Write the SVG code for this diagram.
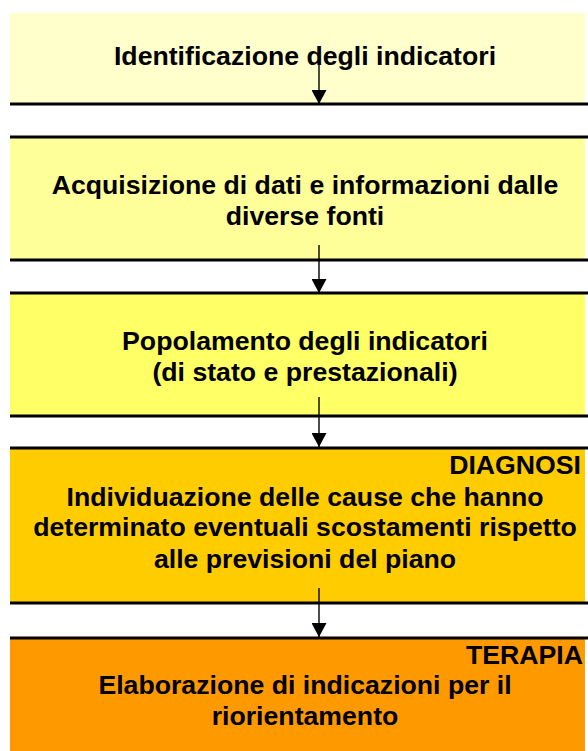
<svg xmlns="http://www.w3.org/2000/svg" width="588" height="751" viewBox="0 0 588 751">
<defs>
<style>
.t{font-family:"Liberation Sans",Arial,sans-serif;font-weight:bold;font-size:26.67px;fill:#000;text-anchor:middle}
.tag{font-family:"Liberation Sans",Arial,sans-serif;font-weight:bold;font-size:26.67px;fill:#000;text-anchor:end}
.sep{stroke:#000;stroke-width:3}
.con{stroke:#000;stroke-width:1.4;fill:none}
.edge{stroke:#e8e0a0;stroke-width:1}
</style>
<marker id="ah" markerWidth="16" markerHeight="15" viewBox="0 0 15 16" refX="15" refY="8" orient="auto" markerUnits="userSpaceOnUse">
<path d="M0,0 L15,8 L0,16 Z" fill="#000"/>
</marker>
</defs>
<rect width="588" height="751" fill="#fff"/>
<g id="n1">
<rect x="10" y="13" width="575" height="91" fill="#FFFFCC"/>
<line class="sep" x1="10" y1="104" x2="588" y2="104"/>
<text class="t" x="305" y="65">Identificazione degli indicatori</text>
</g>
<g id="n2">
<rect x="10" y="137" width="575" height="123" fill="#FFFF99"/>
<line class="sep" x1="10" y1="137" x2="588" y2="137"/>
<line class="sep" x1="10" y1="260" x2="588" y2="260"/>
<text class="t" x="305" y="194">Acquisizione di dati e informazioni dalle</text>
<text class="t" x="305" y="225">diverse fonti</text>
</g>
<g id="n3">
<rect x="10" y="293" width="575" height="123" fill="#FFFF66"/>
<line class="sep" x1="10" y1="293" x2="588" y2="293"/>
<line class="sep" x1="10" y1="416" x2="588" y2="416"/>
<text class="t" x="305" y="350">Popolamento degli indicatori</text>
<text class="t" x="305" y="381">(di stato e prestazionali)</text>
</g>
<g id="n4">
<rect x="10" y="448" width="575" height="155" fill="#FFCC00"/>
<line class="sep" x1="10" y1="448" x2="588" y2="448"/>
<line class="sep" x1="10" y1="603" x2="588" y2="603"/>
<text class="tag" x="581" y="474">DIAGNOSI</text>
<text class="t" x="305" y="506">Individuazione delle cause che hanno</text>
<text class="t" x="305" y="536">determinato eventuali scostamenti rispetto</text>
<text class="t" x="305" y="568">alle previsioni del piano</text>
</g>
<g id="n5">
<rect x="10" y="638" width="575" height="113" fill="#FF9900"/>
<line class="sep" x1="10" y1="638" x2="588" y2="638"/>
<text class="tag" x="583" y="664">TERAPIA</text>
<text class="t" x="305" y="694">Elaborazione di indicazioni per il</text>
<text class="t" x="305" y="725">riorientamento</text>
</g>
<g id="connectors">
<line class="con" x1="319" y1="50" x2="319" y2="104" marker-end="url(#ah)"/>
<line class="con" x1="319" y1="245" x2="319" y2="293" marker-end="url(#ah)"/>
<line class="con" x1="319" y1="397" x2="319" y2="447" marker-end="url(#ah)"/>
<line class="con" x1="319" y1="588" x2="319" y2="637" marker-end="url(#ah)"/>
</g>
</svg>
